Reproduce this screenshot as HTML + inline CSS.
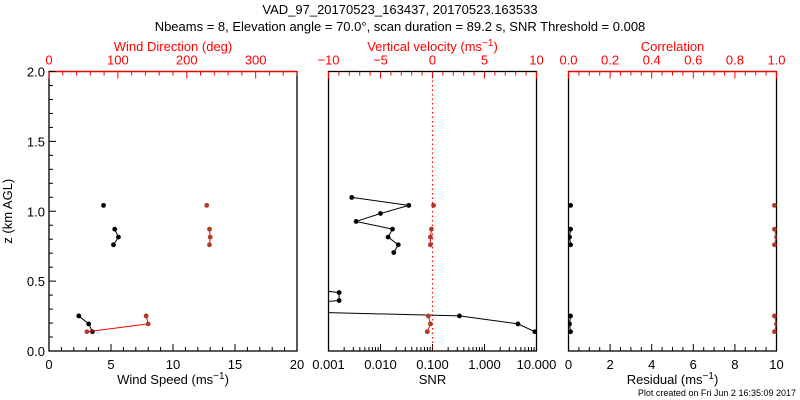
<!DOCTYPE html>
<html><head><meta charset="utf-8"><style>
body{margin:0;background:#fff;}
svg{display:block;font-family:"Liberation Sans",sans-serif;}
</style></head><body>
<svg id="c" width="800" height="400" xmlns="http://www.w3.org/2000/svg">
<text x="400" y="14" text-anchor="middle" font-size="13">VAD_97_20170523_163437, 20170523.163533</text>
<text x="400" y="31" text-anchor="middle" font-size="13">Nbeams = 8, Elevation angle = 70.0°, scan duration = 89.2 s, SNR Threshold = 0.008</text>
</svg>
<script>
// ---- data ----
const windZ = [1.042, 0.872, 0.815, 0.76, 0.251, 0.194, 0.138];
const windSpeed = [4.4, 5.3, 5.6, 5.2, 2.4, 3.2, 3.5];
const windDir = [229, 233, 234, 233, 141, 144, 55];
const windSeg = [0, 1, 1, 1, 2, 2, 2];
const snrZ = [1.099, 1.042, 0.984, 0.927, 0.872, 0.815, 0.76, 0.705, 0.437, 0.418, 0.361, 0.349, 0.294, 0.251, 0.194, 0.138];
const snrVal = [0.0028, 0.035, 0.010, 0.0034, 0.017, 0.014, 0.022, 0.018, 0.0006, 0.0016, 0.0016, 0.0006, 0.00001, 0.33, 4.4, 9.3];
const wZ = [1.042, 0.872, 0.815, 0.76, 0.251, 0.194, 0.138];
const wVal = [0.1, -0.1, -0.2, -0.2, -0.4, -0.2, -0.5];
const resid = [0.1, 0.1, 0.05, 0.1, 0.1, 0.05, 0.1];
const corr = [0.99, 0.99, 1.0, 0.99, 0.99, 1.0, 0.99];
const yTicks = [0, 0.5, 1.0, 1.5, 2.0];
const wsTicks = [0, 5, 10, 15, 20];
const wdTicks = [0, 100, 200, 300];
const vvTicks = [-10, -5, 0, 5, 10];
const snrTicks = ["0.001", "0.010", "0.100", "1.000", "10.000"];
const corrTicks = [0, 0.2, 0.4, 0.6, 0.8, 1.0];
const resTicks = [0, 2, 4, 6, 8, 10];

const svg = document.getElementById('c');
const NS = 'http://www.w3.org/2000/svg';
const TOP = 71.5, BOT = 351;
const P = [{x0: 49, x1: 297}, {x0: 328.5, x1: 536.5}, {x0: 568.5, x1: 776.5}];
const Y = z => BOT - (z / 2) * (BOT - TOP);
const lin = (p, a, b) => v => P[p].x0 + (v - a) / (b - a) * (P[p].x1 - P[p].x0);
const xWS = lin(0, 0, 20), xWD = lin(0, 0, 360), xVV = lin(1, -10, 10), xRes = lin(2, 0, 10), xCor = lin(2, 0, 1);
const xSNR = v => P[1].x0 + (Math.log10(v) + 3) / 4 * (P[1].x1 - P[1].x0);
const RED = '#ff0000', MRK = '#b03a2a';

function el(tag, attrs, parent) {
  const e = document.createElementNS(NS, tag);
  for (const k in attrs) e.setAttribute(k, attrs[k]);
  (parent || svg).appendChild(e);
  return e;
}
function txt(x, y, s, col, size, anchor) {
  const t = el('text', {x: x, y: y, fill: col, 'font-size': size || 13, 'text-anchor': anchor || 'middle'});
  t.textContent = s;
  return t;
}
const defs = el('defs', {});
P.forEach((p, i) => {
  const cp = el('clipPath', {id: 'cp' + i}, defs);
  el('rect', {x: p.x0, y: TOP, width: p.x1 - p.x0, height: BOT - TOP}, cp);
});
P.forEach((p, i) => {
  const r = el('rect', {x: p.x0, y: TOP, width: p.x1 - p.x0, height: BOT - TOP, fill: 'none', stroke: '#000', 'stroke-width': 1.3});
  
  
});
[0, 2].forEach(i => {
  const l = el('line', {x1: P[i].x0, x2: P[i].x1, y1: TOP, y2: TOP, stroke: RED, 'stroke-width': 1.3});
  
  
});
function tick(x, y, len, col, dir) {
  el('line', {x1: x, x2: x, y1: y, y2: y + dir * len, stroke: col, 'stroke-width': 1});
}
function linAxis(f, a, b, major, minor, y, dir, col, labels, fmt) {
  for (let v = a; v <= b + 1e-9; v += minor) {
    const isMaj = Math.abs(v / major - Math.round(v / major)) < 1e-6;
    tick(f(v), y, isMaj ? 7 : 4, col, dir);
  }
  labels.forEach(v => {
    const s = (fmt ? fmt(v) : String(v)).replace('-', '−');
    const t = txt(f(v), dir > 0 ? y - 7 : y + 18, s, col, 13);
    
    
  });
}
linAxis(xWS, 0, 20, 5, 1, BOT, -1, '#000', wsTicks);
linAxis(xWD, 0, 360, 100, 20, TOP, 1, RED, wdTicks);
for (let z = 0; z <= 2.0001; z += 0.1) {
  const maj = Math.abs(z * 2 - Math.round(z * 2)) < 1e-6;
  el('line', {x1: P[0].x0, x2: P[0].x0 + (maj ? 7 : 4), y1: Y(z), y2: Y(z), stroke: '#000'});
}
yTicks.forEach(z => {
  const t = txt(P[0].x0 - 4, Y(z) + 5, z.toFixed(1), '#000', 13, 'end');
  
  
});
const yt = txt(0, 0, 'z (km AGL)', '#000', 13);
yt.setAttribute('transform', 'translate(12,' + ((TOP + BOT) / 2) + ') rotate(-90)');


linAxis(xVV, -10, 10, 5, 1, TOP, 1, RED, vvTicks);
for (let d = -3; d < 1; d++) for (let m = 1; m <= 9; m++) {
  tick(xSNR(m * Math.pow(10, d)), BOT, m === 1 ? 7 : 4, '#000', -1);
}
tick(xSNR(10), BOT, 7, '#000', -1);
snrTicks.forEach(s => {
  const t = txt(xSNR(parseFloat(s)), BOT + 18, s, '#000', 13);
  
  
});
const zl = el('line', {x1: xVV(0), x2: xVV(0), y1: TOP, y2: BOT, stroke: RED, 'stroke-dasharray': '1.5,3', 'stroke-width': 1.2});


linAxis(xRes, 0, 10, 2, 0.5, BOT, -1, '#000', resTicks);
linAxis(xCor, 0, 1, 0.2, 0.05, TOP, 1, RED, corrTicks, v => v.toFixed(1));
function sup(x, y, pre, col, name) {
  const t = txt(x, y, '', col, 13);
  t.innerHTML = pre + ' (ms<tspan dy="-5" font-size="10">−1</tspan><tspan dy="5">)</tspan>';
  
  
}
const wdT = txt((P[0].x0 + P[0].x1) / 2, 51, 'Wind Direction (deg)', RED, 13);


sup((P[1].x0 + P[1].x1) / 2, 51, 'Vertical velocity', RED, 'vertical-velocity-title');
const coT = txt((P[2].x0 + P[2].x1) / 2, 51, 'Correlation', RED, 13);


sup((P[0].x0 + P[0].x1) / 2, 384, 'Wind Speed', '#000', 'wind-speed-title');
const snT = txt((P[1].x0 + P[1].x1) / 2, 384, 'SNR', '#000', 13);


sup((P[2].x0 + P[2].x1) / 2, 384, 'Residual', '#000', 'residual-title');
const pc = txt(796, 396, 'Plot created on Fri Jun  2 16:35:09 2017', '#000', 9, 'end');
pc.setAttribute('xml:space', 'preserve');



function series(xs, zs, xf, segs, lineCol, mkCol, clip, name) {
  const g = el('g', {'clip-path': 'url(#cp' + clip + ')'});
  
  
  for (let i = 1; i < xs.length; i++) {
    if (segs && segs[i] !== segs[i - 1]) continue;
    el('line', {x1: xf(xs[i - 1]), y1: Y(zs[i - 1]), x2: xf(xs[i]), y2: Y(zs[i]), stroke: lineCol, 'stroke-width': 1}, g);
  }
  for (let i = 0; i < xs.length; i++) {
    const c = el('circle', {cx: xf(xs[i]), cy: Y(zs[i]), r: 2.4, fill: mkCol}, g);
    
    
  }
}
series(windSpeed, windZ, xWS, windSeg, '#000', '#000', 0, 'wind-speed-series');
series(windDir, windZ, xWD, windSeg, RED, MRK, 0, 'wind-direction-series');
const snrSeg = [0, 0, 0, 0, 0, 0, 0, 0, 1, 1, 1, 1, 2, 2, 2, 2];
series(snrVal, snrZ, xSNR, snrSeg, '#000', '#000', 1, 'snr-series');
series(wVal, wZ, xVV, windSeg, RED, MRK, 1, 'vertical-velocity-series');
series(resid, windZ, xRes, windSeg, '#000', '#000', 2, 'residual-series');
series(corr, windZ, xCor, windSeg, RED, MRK, 2, 'correlation-series');
</script>
</body></html>
